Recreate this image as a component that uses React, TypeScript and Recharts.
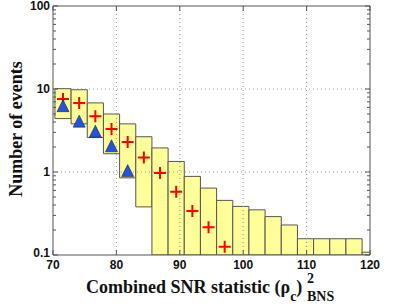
import React from 'react';
import {ComposedChart, XAxis, YAxis, Scatter, ReferenceArea, ReferenceLine} from 'recharts';

// bins of the combined SNR statistic
const binCenters = [71.58, 74.13, 76.68, 79.23, 81.78, 84.33, 86.88, 89.43, 91.98, 94.53, 97.08, 99.63, 102.18, 104.73, 107.28, 109.83, 112.38, 114.93, 117.48, 120.03];
const binWidth = 2.55;
const rangeHigh = [10.1, 9.8, 6.8, 5.0, 3.8, 2.66, 1.95, 1.34, 0.885, 0.64, 0.455, 0.385, 0.35, 0.29, 0.23, 0.157, 0.157, 0.157, 0.157, 0.108];
const rangeLow = [4.4, 3.8, 2.6, 1.66, 0.85, 0.38, 0.1, 0.1, 0.1, 0.1, 0.1, 0.1, 0.1, 0.1, 0.1, 0.1, 0.1, 0.1, 0.1, 0.1];
const expected = [7.6, 6.8, 4.7, 3.3, 2.3, 1.5, 0.97, 0.58, 0.34, 0.216, 0.126];
const observed = [6.3, 4.1, 3.1, 2.07, 1.04];

const xTicks = [70, 80, 90, 100, 110, 120];
const yMajor = [0.1, 1, 10, 100];
const yMinor = [0.2, 0.3, 0.4, 0.5, 0.6, 0.7, 0.8, 0.9, 2, 3, 4, 5, 6, 7, 8, 9, 20, 30, 40, 50, 60, 70, 80, 90];
const gridX = [80, 90, 100, 110];
const gridY = [1, 10];

const expData = expected.map((v, i) => ({x: binCenters[i], y: v}));
const obsData = observed.map((v, i) => ({x: binCenters[i], y: v}));

const axisColor = '#555';
const tickFont = {fontFamily: 'Liberation Sans, Arial, sans-serif', fontWeight: 700, fontSize: 12, fill: '#111'};

const LeftTick = (props: any) => {
	const {x, y, payload} = props;
	const major = yMajor.includes(payload.value);
	const ax = x + 3;
	// the lowest label sits a little higher, as in the original
	const dy = payload.value === 0.1 ? '0.15em' : '0.35em';
	return (
		<g>
			<line x1={ax} y1={y} x2={ax + (major ? 5 : 3)} y2={y} stroke={axisColor}/>
			{major && <text x={x} y={y} dy={dy} textAnchor='end' {...tickFont}>{payload.value}</text>}
		</g>
	);
};

const RightTick = (props: any) => {
	const {x, y, payload} = props;
	const major = yMajor.includes(payload.value);
	return <line x1={x} y1={y} x2={x - (major ? 5 : 3)} y2={y} stroke={axisColor}/>;
};

const BottomTick = (props: any) => {
	const {x, y, payload} = props;
	const ay = y - 4;
	return (
		<g>
			<line x1={x} y1={ay} x2={x} y2={ay - 5} stroke={axisColor}/>
			<text x={x} y={y + 1} dy='0.75em' textAnchor='middle' {...tickFont}>{payload.value}</text>
		</g>
	);
};

const TopTick = (props: any) => {
	const {x, y} = props;
	return <line x1={x} y1={y} x2={x} y2={y + 5} stroke={axisColor}/>;
};

const Plus = (props: any) => {
	const {cx, cy} = props;
	return (
		<path d={`M${cx - 6},${cy}H${cx + 6}M${cx},${cy - 6}V${cy + 6}`} stroke='#ff0000' strokeWidth={2} fill='none'/>
	);
};

const Triangle = (props: any) => {
	const {cx, cy} = props;
	return (
		<polygon
			points={`${cx},${cy - 6} ${cx - 6},${cy + 6} ${cx + 6},${cy + 6}`}
			fill='#2352e8'
			stroke='#223'
			strokeWidth={0.6}
		/>
	);
};

export default function App() {
	const serif = 'Liberation Serif, Times New Roman, serif';
	return (
		<div style={{position: 'fixed', left: 0, top: 0, width: 409, height: 307, background: '#fff'}}>
			<ComposedChart
				width={409}
				height={307}
				margin={{top: 5, right: 38, left: 8, bottom: 27}}
			>
				<XAxis xAxisId='b' type='number' dataKey='x' domain={[70, 120]} ticks={xTicks} interval={0}
					allowDataOverflow tickSize={0} tickMargin={4} tick={<BottomTick/>} tickLine={false}
					axisLine={{stroke: axisColor}} height={25}/>
				<XAxis xAxisId='t' orientation='top' type='number' dataKey='x' domain={[70, 120]} ticks={xTicks}
					interval={0} allowDataOverflow tickSize={0} tickMargin={0} tick={<TopTick/>} tickLine={false}
					axisLine={{stroke: axisColor}} height={1}/>
				<YAxis yAxisId='l' scale='log' type='number' domain={[0.1, 100]} ticks={[...yMajor, ...yMinor]}
					interval={0} allowDataOverflow tickSize={0} tickMargin={3} tick={<LeftTick/>} tickLine={false}
					axisLine={{stroke: axisColor}} width={45}/>
				<YAxis yAxisId='r' orientation='right' scale='log' type='number' domain={[0.1, 100]}
					ticks={[...yMajor, ...yMinor]} interval={0} allowDataOverflow tickSize={0} tickMargin={0}
					tick={<RightTick/>} tickLine={false} axisLine={{stroke: axisColor}} width={1}/>
				{binCenters.map((c, i) => (
					<ReferenceArea key={'box' + i} xAxisId='b' yAxisId='l'
						x1={c - binWidth / 2} x2={c + binWidth / 2} y1={rangeLow[i]} y2={rangeHigh[i]}
						ifOverflow='hidden' fill='#ffff99' fillOpacity={1} stroke='#555' strokeWidth={1}/>
				))}
				{gridX.map((v) => (
					<ReferenceLine key={'gx' + v} xAxisId='b' yAxisId='l' x={v} stroke='#999' strokeDasharray='1 3'/>
				))}
				{gridY.map((v) => (
					<ReferenceLine key={'gy' + v} xAxisId='b' yAxisId='l' y={v} stroke='#999' strokeDasharray='1 3'/>
				))}
				<Scatter xAxisId='b' yAxisId='l' data={expData} dataKey='y' shape={<Plus/>} isAnimationActive={false}/>
				<Scatter xAxisId='b' yAxisId='l' data={obsData} dataKey='y' shape={<Triangle/>} isAnimationActive={false}/>
			</ComposedChart>
			<svg width={409} height={307} style={{position: 'absolute', left: 0, top: 0, pointerEvents: 'none'}}>
				<text x={16} y={129} transform='rotate(-90 16 129)' textAnchor='middle' dy='0.35em'
					fontFamily={serif} fontWeight={700} fontSize={18} fill='#111'>Number of events</text>
				<text x={86} y={293} fontFamily={serif} fontWeight={700} fontSize={18} fill='#111'>
					Combined SNR statistic (ρ
					<tspan fontSize={14} dy={8}>c</tspan>
					<tspan dy={-8}>)</tspan>
				</text>
				<text x={307} y={283} fontFamily={serif} fontWeight={700} fontSize={14} fill='#111'>2</text>
				<text x={307} y={301} fontFamily={serif} fontWeight={700} fontSize={14} fill='#111'>BNS</text>
			</svg>
		</div>
	);
}
